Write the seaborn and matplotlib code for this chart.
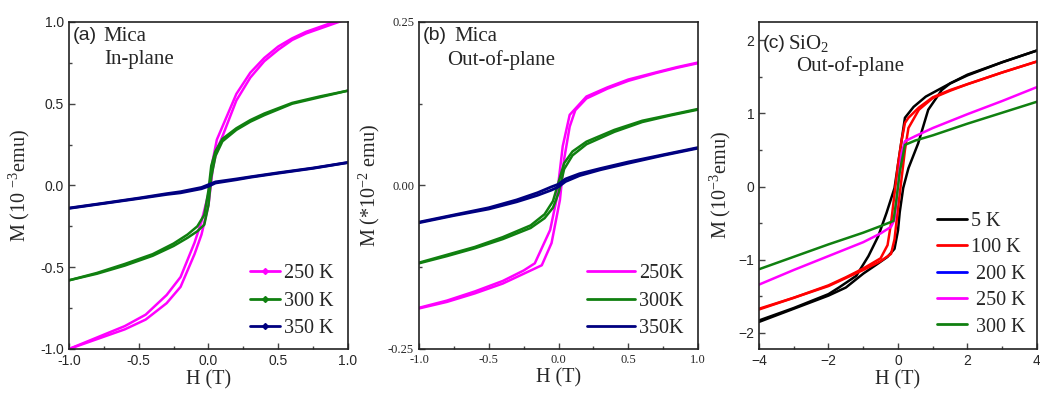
import numpy as np
import pandas as pd
import matplotlib
matplotlib.use("Agg")
import matplotlib.pyplot as plt
from matplotlib.lines import Line2D
from matplotlib.ticker import MultipleLocator, FormatStrFormatter
import seaborn as sns

sns.set_style("ticks")
plt.rcParams['font.family'] = ['Liberation Sans', 'DejaVu Sans']
plt.rcParams['mathtext.fontset'] = 'custom'
plt.rcParams['mathtext.rm'] = 'Liberation Serif'
plt.rcParams['mathtext.it'] = 'Liberation Serif:italic'

SERIF = ['Liberation Serif', 'DejaVu Serif']
SANS = ['Liberation Sans', 'DejaVu Sans']

# ---------------- Panel (a): Mica, in-plane ----------------
a_labels = ["250 K", "300 K", "350 K"]
a250_H_up = [-1.0, -0.8, -0.6, -0.45, -0.3, -0.2, -0.1, -0.05, 0.0, 0.03, 0.06, 0.1, 0.2, 0.3, 0.4, 0.5, 0.6, 0.7, 0.8, 0.9, 1.0]
a250_M_up = [-1.0, -0.94, -0.88, -0.82, -0.72, -0.62, -0.42, -0.3, -0.12, 0.1, 0.22, 0.3, 0.52, 0.66, 0.76, 0.83, 0.89, 0.93, 0.96, 0.99, 1.02]
a250_H_dn = [1.0, 0.9, 0.8, 0.7, 0.6, 0.5, 0.4, 0.3, 0.2, 0.1, 0.06, 0.03, 0.0, -0.05, -0.1, -0.2, -0.3, -0.45, -0.6, -0.8, -1.0]
a250_M_dn = [1.02, 1.0, 0.97, 0.94, 0.9, 0.85, 0.78, 0.69, 0.56, 0.36, 0.28, 0.15, -0.05, -0.22, -0.35, -0.56, -0.67, -0.79, -0.86, -0.93, -1.0]

a300_H = [-1.0, -0.8, -0.6, -0.4, -0.25, -0.15, -0.08, -0.03, 0.0, 0.02, 0.05, 0.1, 0.2, 0.3, 0.4, 0.6, 0.8, 1.0]
a300_M_up = [-0.58, -0.54, -0.49, -0.43, -0.37, -0.32, -0.28, -0.24, -0.12, 0.05, 0.18, 0.27, 0.34, 0.39, 0.43, 0.5, 0.54, 0.58]
a300_M_dn = [-0.58, -0.535, -0.48, -0.42, -0.355, -0.30, -0.25, -0.18, -0.03, 0.12, 0.21, 0.285, 0.35, 0.40, 0.44, 0.505, 0.545, 0.58]

a350_H = [-1.0, -0.75, -0.5, -0.3, -0.2, -0.05, 0.0, 0.05, 0.2, 0.3, 0.5, 0.75, 1.0]
a350_M_up = [-0.14, -0.11, -0.08, -0.055, -0.045, -0.02, -0.005, 0.015, 0.035, 0.05, 0.075, 0.105, 0.14]
a350_M_dn = [-0.138, -0.108, -0.077, -0.05, -0.038, -0.012, 0.005, 0.022, 0.04, 0.053, 0.078, 0.107, 0.141]

# ---------------- Panel (b): Mica, out-of-plane ----------------
b_labels = ["250K", "300K", "350K"]
b250_H_up = [-1.0, -0.8, -0.6, -0.4, -0.25, -0.12, -0.05, 0.01, 0.04, 0.08, 0.12, 0.2, 0.35, 0.5, 0.7, 0.85, 1.0]
b250_M_up = [-0.188, -0.178, -0.165, -0.15, -0.135, -0.122, -0.088, -0.022, 0.04, 0.09, 0.115, 0.133, 0.148, 0.16, 0.172, 0.18, 0.187]
b250_H_dn = [1.0, 0.85, 0.7, 0.5, 0.35, 0.2, 0.08, 0.03, -0.015, -0.06, -0.17, -0.25, -0.4, -0.6, -0.8, -1.0]
b250_M_dn = [0.188, 0.181, 0.173, 0.162, 0.150, 0.136, 0.108, 0.06, -0.022, -0.068, -0.119, -0.13, -0.146, -0.162, -0.176, -0.187]

b300_H = [-1.0, -0.8, -0.6, -0.4, -0.2, -0.1, -0.04, 0.0, 0.04, 0.1, 0.2, 0.4, 0.6, 0.8, 1.0]
b300_M_up = [-0.119, -0.108, -0.096, -0.082, -0.065, -0.05, -0.034, -0.012, 0.025, 0.046, 0.063, 0.082, 0.097, 0.107, 0.116]
b300_M_dn = [-0.118, -0.106, -0.094, -0.079, -0.061, -0.044, -0.024, 0.005, 0.034, 0.052, 0.067, 0.085, 0.099, 0.108, 0.117]

b350_H = [-1.0, -0.75, -0.5, -0.3, -0.15, -0.05, 0.0, 0.05, 0.15, 0.3, 0.5, 0.75, 1.0]
b350_M_up = [-0.057, -0.046, -0.036, -0.025, -0.015, -0.007, -0.002, 0.006, 0.015, 0.024, 0.034, 0.046, 0.057]
b350_M_dn = [-0.056, -0.045, -0.034, -0.022, -0.011, -0.002, 0.002, 0.010, 0.018, 0.026, 0.036, 0.047, 0.058]

# ---------------- Panel (c): SiO2, out-of-plane ----------------
c_labels = ["5 K", "100 K", " 200 K", " 250 K", " 300 K"]
c5_H_up = [-4.0, -3.0, -2.0, -1.5, -1.0, -0.6, -0.3, -0.1, 0.0, 0.05, 0.15, 0.3, 0.58, 0.87, 1.26, 1.5, 2.0, 3.0, 4.0]
c5_M_up = [-1.85, -1.67, -1.49, -1.38, -1.19, -1.06, -0.96, -0.85, -0.6, -0.35, -0.02, 0.25, 0.59, 1.05, 1.32, 1.41, 1.53, 1.70, 1.86]
c5_H_dn = [4.0, 3.0, 2.0, 1.5, 0.8, 0.45, 0.2, 0.1, 0.0, -0.1, -0.33, -0.57, -0.85, -1.2, -1.7, -2.0, -3.0, -4.0]
c5_M_dn = [1.86, 1.70, 1.52, 1.41, 1.23, 1.09, 0.94, 0.62, 0.30, -0.02, -0.36, -0.68, -0.95, -1.22, -1.38, -1.47, -1.66, -1.83]

c100_H_up = [-4.0, -3.0, -2.0, -1.5, -1.0, -0.5, -0.2, -0.1, 0.0, 0.1, 0.2, 0.3, 0.6, 1.0, 1.5, 2.0, 3.0, 4.0]
c100_M_up = [-1.68, -1.52, -1.36, -1.25, -1.14, -1.02, -0.92, -0.72, -0.3, 0.1, 0.5, 0.8, 1.05, 1.21, 1.31, 1.40, 1.56, 1.71]
c100_H_dn = [4.0, 3.0, 2.0, 1.5, 1.0, 0.6, 0.3, 0.2, 0.1, 0.0, -0.1, -0.2, -0.3, -0.5, -1.0, -1.5, -2.0, -3.0, -4.0]
c100_M_dn = [1.71, 1.56, 1.40, 1.32, 1.22, 1.08, 0.94, 0.87, 0.62, 0.3, -0.1, -0.5, -0.8, -0.98, -1.12, -1.24, -1.35, -1.52, -1.67]

c200_H = []
c200_M = []

c250_H = [-4.0, -3.0, -2.0, -1.0, -0.5, -0.2, -0.1, 0.0, 0.1, 0.2, 0.5, 1.0, 2.0, 3.0, 4.0]
c250_M = [-1.34, -1.14, -0.95, -0.76, -0.64, -0.55, -0.45, 0.0, 0.45, 0.62, 0.69, 0.80, 0.99, 1.17, 1.36]

c300_H = [-4.0, -3.0, -2.0, -1.0, -0.5, -0.13, -0.05, 0.05, 0.2, 0.5, 1.0, 2.0, 3.0, 4.0]
c300_M = [-1.13, -0.96, -0.79, -0.63, -0.54, -0.47, -0.2, 0.2, 0.57, 0.63, 0.70, 0.86, 1.01, 1.16]

MAG, GRN, NAV = "#FF00FF", "#108010", "#000080"

fig = plt.figure(figsize=(10.40, 4.01), dpi=100)
axa = fig.add_axes([0.0663, 0.1297, 0.2683, 0.8155])
axb = fig.add_axes([0.4029, 0.1297, 0.2683, 0.8155])
axc = fig.add_axes([0.7298, 0.1297, 0.2673, 0.8155])


def branch(ax, H, M, color, lw=1.8):
    sns.lineplot(x=np.asarray(H, float), y=np.asarray(M, float), sort=False,
                 estimator=None, color=color, lw=lw, ax=ax)


def style(ax, tickfont, tsize):
    ax.tick_params(direction='in', which='both', top=False, right=False,
                   labelsize=tsize, width=1, color='#444444')
    ax.tick_params(which='major', length=4)
    ax.tick_params(which='minor', length=2.5)
    for lab in ax.get_xticklabels() + ax.get_yticklabels():
        lab.set_family(tickfont)
    for sp in ax.spines.values():
        sp.set_visible(True)
        sp.set_linewidth(1.2)
        sp.set_color('#222222')
    ax.set_xlabel("H (T)", family=SERIF, fontsize=14.5, labelpad=2)


TXT = 15
LEG = 14.5

# ---- (a)
for H, M in [(a250_H_up, a250_M_up), (a250_H_dn, a250_M_dn)]:
    branch(axa, H, M, MAG)
for M in (a300_M_up, a300_M_dn):
    branch(axa, a300_H, M, GRN)
for M in (a350_M_up, a350_M_dn):
    branch(axa, a350_H, M, NAV, lw=2.0)
axa.set_xlim(-1, 1)
axa.set_ylim(-1, 1)
axa.xaxis.set_major_locator(MultipleLocator(0.5))
axa.xaxis.set_minor_locator(MultipleLocator(0.25))
axa.yaxis.set_major_locator(MultipleLocator(0.5))
axa.yaxis.set_minor_locator(MultipleLocator(0.25))
axa.xaxis.set_major_formatter(FormatStrFormatter('%.1f'))
axa.yaxis.set_major_formatter(FormatStrFormatter('%.1f'))
style(axa, SANS, 10)
axa.set_ylabel(r"M (10 $^{-3}$emu)", family=SERIF, fontsize=14.5, labelpad=6)
axa.text(0.015, 0.985, "(a)", transform=axa.transAxes, ha='left', va='top', family=SANS, fontsize=TXT - 1)
axa.text(0.125, 0.985, "Mica", transform=axa.transAxes, ha='left', va='top', family=SERIF, fontsize=TXT)
axa.text(0.125, 0.915, "In-plane", transform=axa.transAxes, ha='left', va='top', family=SERIF, fontsize=TXT)
ha = [Line2D([], [], color=c, lw=2, marker='D', ms=3) for c in (MAG, GRN, NAV)]
axa.legend(ha, a_labels, loc='lower right', frameon=False, prop={'family': SERIF, 'size': LEG},
           handlelength=1.5, handletextpad=0.2, labelspacing=0.42, borderaxespad=0.3,
           bbox_to_anchor=(1.0, -0.01))

# ---- (b)
branch(axb, b250_H_up, b250_M_up, MAG)
branch(axb, b250_H_dn, b250_M_dn, MAG)
for M in (b300_M_up, b300_M_dn):
    branch(axb, b300_H, M, GRN)
for M in (b350_M_up, b350_M_dn):
    branch(axb, b350_H, M, NAV, lw=2.0)
axb.set_xlim(-1, 1)
axb.set_ylim(-0.25, 0.25)
axb.xaxis.set_major_locator(MultipleLocator(0.5))
axb.xaxis.set_minor_locator(MultipleLocator(0.25))
axb.yaxis.set_major_locator(MultipleLocator(0.25))
axb.yaxis.set_minor_locator(MultipleLocator(0.125))
axb.xaxis.set_major_formatter(FormatStrFormatter('%.1f'))
axb.yaxis.set_major_formatter(FormatStrFormatter('%.2f'))
style(axb, SERIF, 9)
axb.set_ylabel(r"M (*10$^{-2}$ emu)", family=SERIF, fontsize=14.5, labelpad=4)
axb.text(0.015, 0.985, "(b)", transform=axb.transAxes, ha='left', va='top', family=SANS, fontsize=TXT - 1)
axb.text(0.125, 0.985, "Mica", transform=axb.transAxes, ha='left', va='top', family=SERIF, fontsize=TXT)
axb.text(0.100, 0.915, "Out-of-plane", transform=axb.transAxes, ha='left', va='top', family=SERIF, fontsize=TXT)
hb = [Line2D([], [], color=c, lw=2) for c in (MAG, GRN, NAV)]
axb.legend(hb, b_labels, loc='lower right', frameon=False, prop={'family': SERIF, 'size': LEG},
           handlelength=2.4, handletextpad=0.2, labelspacing=0.42, borderaxespad=0.3,
           bbox_to_anchor=(1.0, -0.01))

# ---- (c)
branch(axc, c5_H_up, c5_M_up, 'black')
branch(axc, c5_H_dn, c5_M_dn, 'black')
branch(axc, c100_H_up, c100_M_up, 'red')
branch(axc, c100_H_dn, c100_M_dn, 'red')
axc.plot(c200_H, c200_M, color='blue')
branch(axc, c250_H, c250_M, MAG)
branch(axc, c300_H, c300_M, GRN)
axc.set_xlim(-4, 4)
axc.set_ylim(-2.22, 2.25)
axc.xaxis.set_major_locator(MultipleLocator(2))
axc.xaxis.set_minor_locator(MultipleLocator(1))
axc.yaxis.set_major_locator(MultipleLocator(1))
axc.yaxis.set_minor_locator(MultipleLocator(0.5))
style(axc, SANS, 10)
axc.set_ylabel(r"M (10$^{-3}$emu)", family=SERIF, fontsize=14.5, labelpad=4)
axc.text(0.015, 0.96, "(c)", transform=axc.transAxes, ha='left', va='top', family=SANS, fontsize=TXT - 1)
axc.text(0.105, 0.965, r"SiO$_2$", transform=axc.transAxes, ha='left', va='top', family=SERIF, fontsize=TXT)
axc.text(0.135, 0.895, "Out-of-plane", transform=axc.transAxes, ha='left', va='top', family=SERIF, fontsize=TXT)
hc = [Line2D([], [], color=c, lw=2) for c in ('black', 'red', 'blue', MAG, GRN)]
axc.legend(hc, c_labels, loc='lower right', frameon=False, prop={'family': SERIF, 'size': LEG},
           handlelength=1.5, handletextpad=0.2, labelspacing=0.36, borderaxespad=0.3,
           bbox_to_anchor=(1.01, -0.005))

fig.savefig("out.png", dpi=100)
